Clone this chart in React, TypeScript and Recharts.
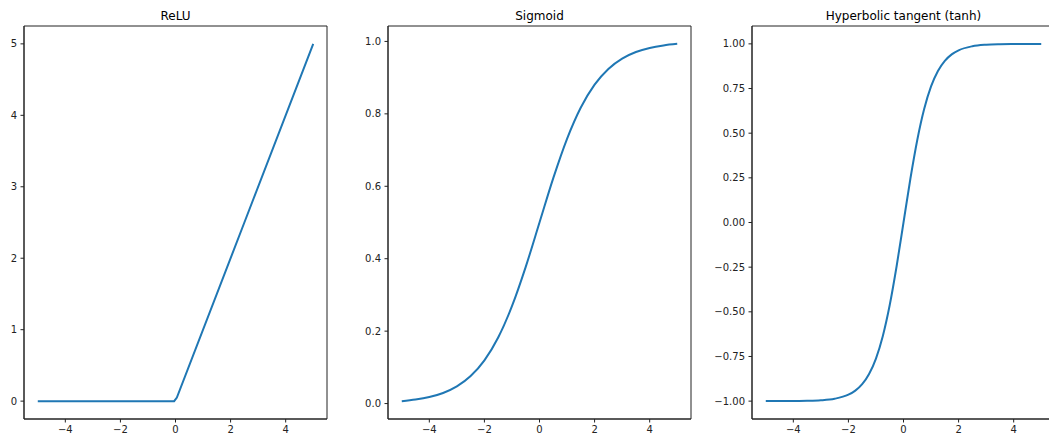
import React from "react";
import { LineChart, Line, XAxis, YAxis, ReferenceArea } from "recharts";

// ---- data ----
const reluX = [-5, -2.5, -0.05, 0.05, 2.5, 5];
const reluY = [0, 0, 0, 0.05, 2.5, 5];

const sigX = [-5, -4.5, -4, -3.5, -3, -2.5, -2, -1.5, -1, -0.5, 0, 0.5, 1, 1.5, 2, 2.5, 3, 3.5, 4, 4.5, 5];
const sigY = [0.0067, 0.011, 0.018, 0.0293, 0.0474, 0.0759, 0.1192, 0.1824, 0.2689, 0.3775, 0.5, 0.6225, 0.7311, 0.8176, 0.8808, 0.9241, 0.9526, 0.9707, 0.982, 0.989, 0.9933];

const tanhX = [-5, -4.5, -4, -3.5, -3, -2.5, -2, -1.75, -1.5, -1.25, -1, -0.75, -0.5, -0.25, 0, 0.25, 0.5, 0.75, 1, 1.25, 1.5, 1.75, 2, 2.5, 3, 3.5, 4, 4.5, 5];
const tanhY = [-0.9999, -0.9998, -0.9993, -0.9982, -0.9951, -0.9866, -0.964, -0.9413, -0.9051, -0.8483, -0.7616, -0.6351, -0.4621, -0.2449, 0, 0.2449, 0.4621, 0.6351, 0.7616, 0.8483, 0.9051, 0.9413, 0.964, 0.9866, 0.9951, 0.9982, 0.9993, 0.9998, 0.9999];

const titles = ["ReLU", "Sigmoid", "Hyperbolic tangent (tanh)"];

const xTicks = [-4, -2, 0, 2, 4];
const xTickLabels = ["\u22124", "\u22122", "0", "2", "4"];

const reluTicks = [0, 1, 2, 3, 4, 5];
const reluTickLabels = ["0", "1", "2", "3", "4", "5"];
const sigTicks = [0, 0.2, 0.4, 0.6, 0.8, 1.0];
const sigTickLabels = ["0.0", "0.2", "0.4", "0.6", "0.8", "1.0"];
const tanhTicks = [-1, -0.75, -0.5, -0.25, 0, 0.25, 0.5, 0.75, 1];
const tanhTickLabels = ["\u22121.00", "\u22120.75", "\u22120.50", "\u22120.25", "0.00", "0.25", "0.50", "0.75", "1.00"];

const toRows = (xs: number[], ys: number[]) => xs.map((x, i) => ({ x, y: ys[i] }));

// ---- styles ----
const FONT = "'DejaVu Sans', sans-serif";
const AX = "#222";
const TXT = "#222";
const LINE = "#1f77b4";
const PW = 303;
const PH = 393;
const PT = 26;
const YW = 60;
const XH = 30;
const M = 2;
const X_DOMAIN: [number, number] = [-5.5, 5.5];

function labelFor(ticks: number[], labels: string[]) {
  return (v: number) => {
    const i = ticks.findIndex((t) => Math.abs(t - v) < 1e-9);
    return i >= 0 ? labels[i] : String(v);
  };
}

type PanelProps = {
  title: string;
  data: { x: number; y: number }[];
  left: number;
  yDomain: [number, number];
  yTicks: number[];
  yLabels: string[];
  type: "linear" | "monotone";
};

function Panel({ title, data, left, yDomain, yTicks, yLabels, type }: PanelProps) {
  return (
    <>
      <div
        style={{
          position: "absolute",
          left,
          top: 10,
          width: PW,
          textAlign: "center",
          fontSize: 12,
          lineHeight: "12px",
          fontFamily: FONT,
          color: "#000",
          whiteSpace: "nowrap",
        }}
      >
        {title}
      </div>
      <div style={{ position: "absolute", left: left - YW, top: PT - M }}>
        <LineChart
          width={YW + PW + M}
          height={PH + XH + M}
          data={data}
          margin={{ top: M, right: M, bottom: 0, left: 0 }}
        >
          <XAxis
            type="number"
            dataKey="x"
            domain={X_DOMAIN}
            allowDataOverflow
            ticks={xTicks}
            interval={0}
            tickFormatter={labelFor(xTicks, xTickLabels)}
            tickSize={3.5}
            tickMargin={3.5}
            height={XH}
            axisLine={{ stroke: AX }}
            tickLine={{ stroke: AX }}
            tick={{ fill: TXT, fontSize: 10, fontFamily: FONT }}
          />
          <YAxis
            type="number"
            domain={yDomain}
            allowDataOverflow
            ticks={yTicks}
            interval={0}
            tickFormatter={labelFor(yTicks, yLabels)}
            tickSize={3.5}
            tickMargin={3.5}
            width={YW}
            axisLine={{ stroke: AX }}
            tickLine={{ stroke: AX }}
            tick={{ fill: TXT, fontSize: 10, fontFamily: FONT }}
          />
          <ReferenceArea
            x1={X_DOMAIN[0]}
            x2={X_DOMAIN[1]}
            y1={yDomain[0]}
            y2={yDomain[1]}
            fill="none"
            fillOpacity={0}
            stroke={AX}
            strokeWidth={1}
            ifOverflow="visible"
          />
          <Line
            type={type}
            dataKey="y"
            stroke={LINE}
            strokeWidth={2}
            dot={false}
            activeDot={false}
            isAnimationActive={false}
          />
        </LineChart>
      </div>
    </>
  );
}

export default function App() {
  return (
    <div
      style={{
        position: "absolute",
        left: 0,
        top: 0,
        width: 1049,
        height: 437,
        overflow: "hidden",
        background: "#fff",
      }}
    >
      <Panel
        title={titles[0]}
        data={toRows(reluX, reluY)}
        left={24}
        yDomain={[-0.25, 5.25]}
        yTicks={reluTicks}
        yLabels={reluTickLabels}
        type="linear"
      />
      <Panel
        title={titles[1]}
        data={toRows(sigX, sigY)}
        left={388}
        yDomain={[-0.0426, 1.0426]}
        yTicks={sigTicks}
        yLabels={sigTickLabels}
        type="monotone"
      />
      <Panel
        title={titles[2]}
        data={toRows(tanhX, tanhY)}
        left={752}
        yDomain={[-1.1, 1.1]}
        yTicks={tanhTicks}
        yLabels={tanhTickLabels}
        type="monotone"
      />
    </div>
  );
}
